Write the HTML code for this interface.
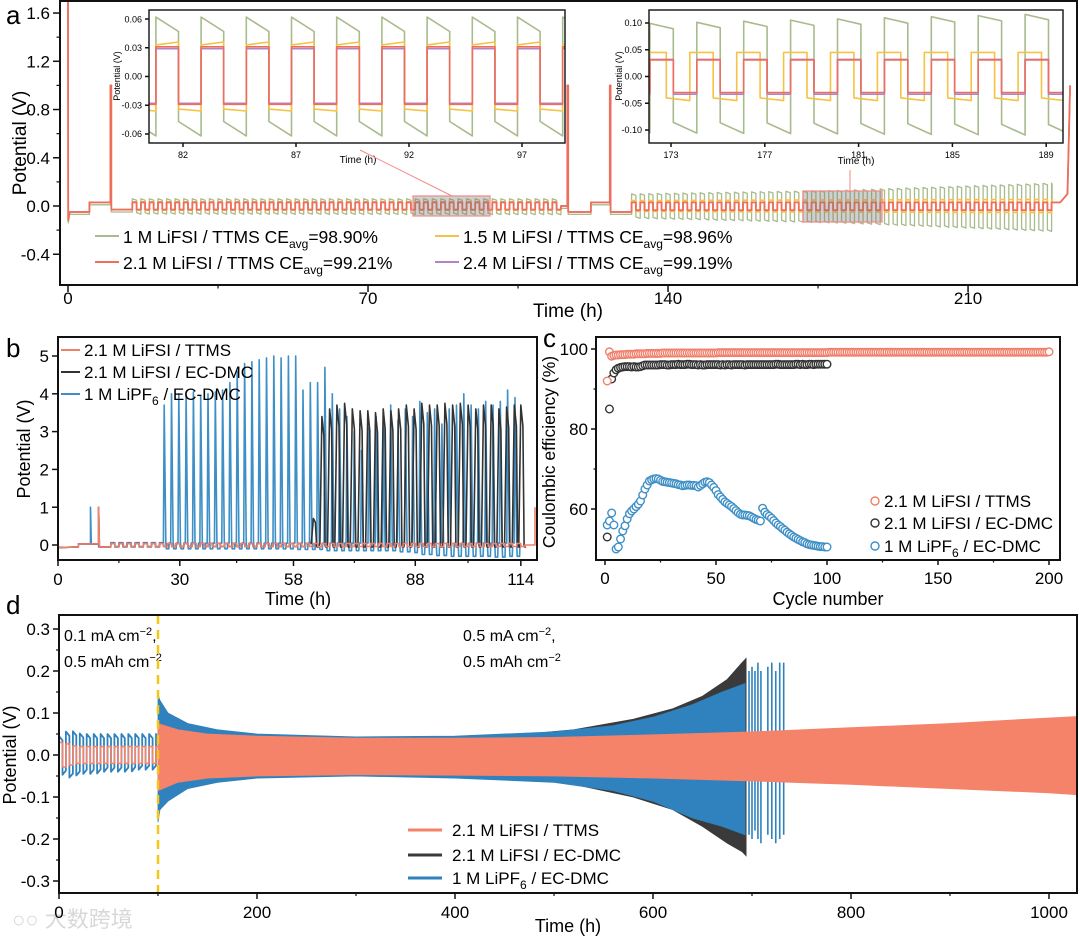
<!DOCTYPE html>
<html><head><meta charset="utf-8">
<style>
html,body{margin:0;padding:0;background:#fff;}
svg{display:block;font-family:"Liberation Sans","Noto Sans CJK SC",sans-serif;}
</style></head>
<body>
<svg id="fig" width="1080" height="937" viewBox="0 0 1080 937" xmlns="http://www.w3.org/2000/svg">
<defs>
<clipPath id="clipA"><rect x="60" y="1" width="1017" height="283"/></clipPath>
<clipPath id="clipI1"><rect x="149" y="10" width="416" height="133"/></clipPath>
<clipPath id="clipI2"><rect x="649" y="10" width="414" height="133"/></clipPath>
<clipPath id="clipB"><rect x="58" y="337" width="479" height="223"/></clipPath>
<clipPath id="clipD"><rect x="59" y="615" width="1018" height="278"/></clipPath>
</defs>
<text x="6" y="24" font-size="26">a</text>
<text x="6" y="357" font-size="26">b</text>
<text x="543" y="347" font-size="26">c</text>
<text x="6" y="614" font-size="26">d</text>
<text x="26" y="143" font-size="19" text-anchor="middle" transform="rotate(-90 26 143)">Potential (V)</text>
<text x="568" y="317" font-size="19" text-anchor="middle">Time (h)</text>
<text x="30" y="449" font-size="18" text-anchor="middle" transform="rotate(-90 30 449)">Potential (V)</text>
<text x="298" y="605" font-size="18" text-anchor="middle">Time (h)</text>
<text x="555" y="452" font-size="17.5" text-anchor="middle" transform="rotate(-90 555 452)">Coulombic efficiency (%)</text>
<text x="828" y="605" font-size="18" text-anchor="middle">Cycle number</text>
<text x="16" y="755" font-size="18" text-anchor="middle" transform="rotate(-90 16 755)">Potential (V)</text>
<text x="568" y="932" font-size="18" text-anchor="middle">Time (h)</text>
<text x="358" y="163" font-size="10" text-anchor="middle">Time (h)</text>
<text x="120" y="76" font-size="9" text-anchor="middle" transform="rotate(-90 120 76)">Potential (V)</text>
<text x="856" y="164" font-size="10" text-anchor="middle">Time (h)</text>
<text x="622" y="76" font-size="9" text-anchor="middle" transform="rotate(-90 622 76)">Potential (V)</text>
<text x="64" y="641" font-size="16">0.1 mA cm<tspan dy="-6" font-size="11">−2</tspan><tspan dy="6">,</tspan></text>
<text x="64" y="667" font-size="16">0.5 mAh cm<tspan dy="-6" font-size="11">−2</tspan></text>
<text x="463" y="641" font-size="16">0.5 mA cm<tspan dy="-6" font-size="11">−2</tspan><tspan dy="6">,</tspan></text>
<text x="463" y="667" font-size="16">0.5 mAh cm<tspan dy="-6" font-size="11">−2</tspan></text>
<text x="12" y="927" font-size="22" fill="#d8d8d8">○○ 大数跨境</text>
</svg>
<script>
// ---------- DATA ----------
const aTickY=[-0.4,0,0.4,0.8,1.2,1.6];
const aTickYLabels=["-0.4","0.0","0.4","0.8","1.2","1.6"];
const aTickX=[0,70,140,210];
const aTickXLabels=["0","70","140","210"];
const aPreT=[0,0.05,0.4,5,5,9.9,9.9,10.1,10.1,15];
const aPreV=[1.8,-0.12,-0.05,-0.05,0.03,0.03,1.0,1.0,-0.03,-0.03];
const aMidT=[115,116.5,116.5,116.7,116.7,122,122,126.4,126.4,126.6,126.6,131.5];
const aMidV=[0.0,0.0,1.0,1.0,-0.05,-0.05,0.03,0.03,1.0,1.0,-0.05,-0.05];
const aEndT=[229.6,231.5,233.2,233.8];
const aEndV=[0.03,0.03,0.1,1.0];
const aAmpT=[15,115,131.5,180,229.6];
const aGreenHi=[0.06,0.06,0.1,0.13,0.19];
const aGreenLo=[-0.055,-0.06,-0.09,-0.13,-0.2];
const aYellowHi=[0.035,0.035,0.045,0.05,0.055];
const aYellowLo=[-0.035,-0.035,-0.045,-0.05,-0.055];
const aPurpleHi=[0.03,0.03,0.03,0.03,0.03];
const aPurpleLo=[-0.03,-0.03,-0.035,-0.035,-0.035];
const aRedHi=[0.03,0.03,0.03,0.03,0.03];
const aRedLo=[-0.03,-0.03,-0.035,-0.035,-0.035];
const i1TickY=[-0.06,-0.03,0,0.03,0.06];
const i1TickYLabels=["-0.06","-0.03","0.00","0.03","0.06"];
const i1TickX=[82,87,92,97];
const i1AmpT=[78,100];
const i1GreenHi=[0.062,0.062], i1GreenLo=[-0.047,-0.047];
const i1YellowHi=[0.033,0.033], i1YellowLo=[-0.034,-0.034];
const i1PurpleHi=[0.029,0.029], i1PurpleLo=[-0.028,-0.028];
const i1RedHi=[0.031,0.031], i1RedLo=[-0.029,-0.029];
const i2TickY=[-0.1,-0.05,0,0.05,0.1];
const i2TickYLabels=["-0.10","-0.05","0.00","0.05","0.10"];
const i2TickX=[173,177,181,185,189];
const i2AmpT=[170,190];
const i2GreenHi=[0.097,0.118], i2GreenLo=[-0.085,-0.09];
const i2YellowHi=[0.045,0.045], i2YellowLo=[-0.04,-0.04];
const i2PurpleHi=[0.032,0.032], i2PurpleLo=[-0.033,-0.033];
const i2RedHi=[0.031,0.031], i2RedLo=[-0.03,-0.03];
const bTickY=[0,1,2,3,4,5];
const bTickX=[0,30,58,88,114];
const bBlueT=[26,27.8,29.6,31.4,33.2,35,36.8,38.6,40.4,42.2,44,45.8,47.6,49.4,51.2,53,54.8,56.6,58.4,60.2,62,63.8,65.6,67.4,69.2,71,72.8,74.6,76.4,78.2,80,81.8,83.6,85.4,87.2,89,90.8,92.6,94.4,96.2,98,99.8,101.6,103.4,105.2,107,108.8,110.6,112.4];
const bBlueP=[3.7,4.0,4.0,3.95,4.05,3.95,4.0,4.05,4.1,4.3,4.6,4.8,4.85,4.9,4.95,5.0,4.95,5.0,5.0,4.1,4.3,4.3,4.7,4.0,3.6,3.4,3.0,2.5,3.1,3.4,3.5,3.7,3.3,3.6,3.4,3.8,3.5,3.6,3.2,3.6,3.7,4.0,3.7,3.6,3.8,3.7,3.8,4.1,3.9];
const bBlueLow=[-0.1,-0.1,-0.1,-0.1,-0.1,-0.1,-0.1,-0.1,-0.1,-0.1,-0.1,-0.1,-0.1,-0.1,-0.1,-0.1,-0.1,-0.1,-0.12,-0.12,-0.12,-0.12,-0.15,-0.15,-0.15,-0.15,-0.15,-0.15,-0.15,-0.15,-0.15,-0.15,-0.18,-0.18,-0.2,-0.25,-0.25,-0.28,-0.28,-0.3,-0.3,-0.3,-0.3,-0.3,-0.3,-0.32,-0.32,-0.3,-0.3];
const bBlackT=[62.5,64.6,66.5,68.3,70.2,72.1,74,75.9,77.8,79.7,81.6,83.5,85.4,87.3,89.2,91.1,93,94.9,96.8,98.7,100.6,102.5,104.4,106.3,108.2,110.1,112,113.6];
const bBlackP=[0.7,3.4,3.6,3.7,3.75,3.6,3.55,3.55,3.5,3.6,3.55,3.6,3.7,3.6,3.75,3.7,3.7,3.75,3.7,3.75,3.7,3.6,3.7,3.7,3.6,3.65,3.7,3.7];
const cTickY=[60,80,100];
const cTickX=[0,50,100,150,200];
const cRed=[92,99.3,98.2,98.4,98.5,98.5,98.6,98.6,98.6,98.7,98.7,98.7,98.7,98.8,98.8,98.8,98.8,98.8,98.9,98.9,
98.9,98.9,98.9,98.9,98.9,99,99,99,99,99,99,99,99,99,99,99,99,99,99,99,
99,99,99,99,99,99,99,99,99,99,99.1,99.1,99.1,99.1,99.1,99.1,99.1,99.1,99.1,99.1,
99.1,99.1,99.1,99.1,99.1,99.1,99.1,99.1,99.1,99.1,99.1,99.1,99.1,99.1,99.1,99.1,99.1,99.1,99.1,99.1,
99.1,99.1,99.1,99.1,99.1,99.1,99.1,99.1,99.1,99.1,99.1,99.1,99.1,99.1,99.1,99.1,99.1,99.1,99.1,99.1,
99.2,99.2,99.2,99.2,99.2,99.2,99.2,99.2,99.2,99.2,99.2,99.2,99.2,99.2,99.2,99.2,99.2,99.2,99.2,99.2,
99.2,99.2,99.2,99.2,99.2,99.2,99.2,99.2,99.2,99.2,99.2,99.2,99.2,99.2,99.2,99.2,99.2,99.2,99.2,99.2,
99.2,99.2,99.2,99.2,99.2,99.2,99.2,99.2,99.2,99.2,99.2,99.2,99.2,99.2,99.2,99.2,99.2,99.2,99.2,99.2,
99.2,99.2,99.2,99.2,99.2,99.2,99.2,99.2,99.2,99.2,99.2,99.2,99.2,99.2,99.2,99.2,99.2,99.2,99.2,99.2,
99.2,99.2,99.2,99.2,99.2,99.2,99.2,99.2,99.2,99.2,99.2,99.2,99.2,99.2,99.2,99.2,99.2,99.2,99.2,99.3];
const cBlack=[53,85,92.5,94,94.8,95.2,95.4,95.5,95.6,95.6,95.6,95.5,95.6,95.5,95.5,95.6,95.8,96,96,96,
96,96,96,96,96.1,96.1,96.1,96,96,96.1,96.1,96.1,96.2,96.1,96.1,96.1,96.2,96.2,96.1,96.1,
96.1,96,96.1,96,96,96.1,96.1,96.1,96.1,96.1,96.1,96,96.1,96,96.1,96.1,96,96.1,96.1,96.1,
96.1,96.1,96,96.1,96.1,96.1,96.1,96.1,96.1,96.1,96.1,96.1,96.1,96.1,96.1,96.1,96.2,96.2,96.1,96.1,
96.1,96.1,96.1,96.1,96.1,96.2,96.2,96.1,96.2,96.1,96.1,96.2,96.2,96.1,96.2,96.2,96.2,96.2,96.2,96.2];
const cBlue=[56,57,59,56,50,50.5,52.5,54.5,55.8,57.5,58.8,59.5,60,60.6,61.2,62,63.5,65,66,67,
67.3,67.5,67.6,67.5,67.2,66.9,66.8,66.7,66.6,66.5,66.4,66.3,66.1,66,65.8,65.9,66,66,65.9,65.9,
65.8,65.5,65.9,66.3,66.7,66.8,66.6,66,65.4,64.6,63.6,63,62.4,61.8,61.4,61,60.6,60.1,59.6,59.1,
58.7,58.5,58.5,58.4,58.3,58,57.7,57.4,57.2,57,60.2,59.2,58.6,58.2,57.7,57.1,56.5,56,55.6,55.1,
54.7,54.2,53.8,53.4,53,52.7,52.4,52.1,51.8,51.6,51.3,51.1,51,50.9,50.8,50.7,50.6,50.6,50.5,50.5];
const dTickY=[-0.3,-0.2,-0.1,0,0.1,0.2,0.3];
const dTickYLabels=["-0.3","-0.2","-0.1","0.0","0.1","0.2","0.3"];
const dTickX=[0,200,400,600,800,1000];
const dEarlyT=[2,9,16,23,30,37,44,51,58,65,72,79,86,93,100];
const dEarlyBlue=[0.045,0.06,0.055,0.05,0.05,0.05,0.05,0.05,0.05,0.05,0.05,0.05,0.05,0.05,0.05];
const dEarlyBlueLo=[-0.045,-0.055,-0.05,-0.045,-0.045,-0.045,-0.04,-0.04,-0.04,-0.04,-0.04,-0.035,-0.035,-0.035,-0.035];
const dEarlyRed=[0.03,0.025,0.02,0.02,0.02,0.02,0.02,0.02,0.02,0.02,0.02,0.02,0.02,0.02,0.02];
const dEarlyRedLo=[-0.03,-0.025,-0.02,-0.02,-0.02,-0.02,-0.02,-0.02,-0.02,-0.02,-0.02,-0.02,-0.02,-0.02,-0.02];
const dRedT=[100,120,150,200,300,400,500,600,700,800,900,1000,1030];
const dRedTop=[0.075,0.06,0.05,0.045,0.04,0.04,0.042,0.048,0.055,0.065,0.075,0.088,0.092];
const dRedBot=[-0.085,-0.065,-0.055,-0.05,-0.047,-0.048,-0.05,-0.055,-0.062,-0.07,-0.08,-0.09,-0.095];
const dBlueT=[100,102,110,130,160,200,300,400,500,560,600,640,670,693];
const dBlueTop=[0.145,0.13,0.1,0.075,0.06,0.05,0.043,0.045,0.055,0.07,0.09,0.12,0.15,0.17];
const dBlueBot=[-0.16,-0.13,-0.11,-0.08,-0.065,-0.055,-0.05,-0.055,-0.065,-0.085,-0.11,-0.15,-0.17,-0.19];
const dBlackT=[450,520,580,620,650,675,690,694];
const dBlackTop=[0.045,0.06,0.085,0.11,0.14,0.18,0.22,0.23];
const dBlackBot=[-0.05,-0.07,-0.1,-0.13,-0.17,-0.21,-0.23,-0.24];
const dTailT=[697,700,703,706,709,716,720,724,728,732];
const dTailTop=[0.2,0.21,0.2,0.22,0.2,0.21,0.22,0.2,0.22,0.22];
const dTailBot=[-0.19,-0.2,-0.18,-0.2,-0.21,-0.19,-0.2,-0.21,-0.2,-0.19];

// ---------- HELPERS ----------
const NS='http://www.w3.org/2000/svg';
const svg=document.getElementById('fig');
function mk(tag,attrs,parent){const e=document.createElementNS(NS,tag);for(const k in attrs)e.setAttribute(k,attrs[k]);(parent||svg).appendChild(e);return e;}
function interp(ts,vs,t){if(t<=ts[0])return vs[0];for(let i=1;i<ts.length;i++){if(t<=ts[i]){const f=(t-ts[i-1])/(ts[i]-ts[i-1]);return vs[i-1]+f*(vs[i]-vs[i-1]);}}return vs[vs.length-1];}
function pathD(pts,X,Y){return pts.map((p,i)=>(i?'L':'M')+X(p[0]).toFixed(1)+' '+Y(p[1]).toFixed(1)).join('');}
function square(t0,t1,half,aT,hi,lo,sagHi,sagLo){const pts=[];let t=t0,h=true;while(t<t1-1e-9){const te=Math.min(t+half,t1);if(h){const a=interp(aT,hi,t);pts.push([t,a],[te,a-(sagHi||0)]);}else{const a=interp(aT,lo,t);pts.push([t,a],[te,a-(sagLo||0)]);}t=te;h=!h;}return pts;}
function zip(ts,vs){return ts.map((t,i)=>[t,vs[i]]);}
function axes(g,x0,y0,x1,y1,X,Y,xt,xl,yt,yl,xmin,ymin,fs,tl,lo){
  const lab=(lo===undefined)?(tl+fs+2):lo;
  const r=mk('rect',{x:x0,y:y0,width:x1-x0,height:y1-y0,fill:'none',stroke:'#111','stroke-width':fs>12?2:1.4},g);
  
  
  xt.forEach((v,i)=>{mk('line',{x1:X(v),x2:X(v),y1:y1,y2:y1+tl,stroke:'#111','stroke-width':1.5},g);
    const t=mk('text',{x:X(v),y:y1+lab,'font-size':fs,'text-anchor':'middle'},g);t.textContent=xl?xl[i]:String(v);
    
    });
  (xmin||[]).forEach(v=>mk('line',{x1:X(v),x2:X(v),y1:y1,y2:y1+tl/2,stroke:'#111','stroke-width':1.2},g));
  yt.forEach((v,i)=>{mk('line',{x1:x0-tl,x2:x0,y1:Y(v),y2:Y(v),stroke:'#111','stroke-width':1.5},g);
    const t=mk('text',{x:x0-tl-3,y:Y(v)+fs*0.36,'font-size':fs,'text-anchor':'end'},g);t.textContent=yl?yl[i]:String(v);
    
    });
  (ymin||[]).forEach(v=>mk('line',{x1:x0-tl/2,x2:x0,y1:Y(v),y2:Y(v),stroke:'#111','stroke-width':1.2},g));
}
function line(g,pts,X,Y,color,w,name,clip){const p=mk('path',{d:pathD(pts,X,Y),fill:'none',stroke:color,'stroke-width':w,'stroke-linejoin':'round','clip-path':clip?'url(#'+clip+')':''},g);
  
  return p;}

const GREEN='#a9bb8c',YEL='#f6c244',PUR='#b283c8',RED='#ee6e5c';
// ---------- PANEL A ----------
const gA=mk('g',{});


const XA=t=>68+t*4.286, YA=v=>206-v*120.6;
function aSeries(hi,lo,sh,sl,off){return zip(aPreT,aPreV.map(v=>v+off)).concat(square(15,115,1,aAmpT,hi,lo,sh,sl),zip(aMidT,aMidV.map(v=>v+off)),square(131.5,229.6,1,aAmpT,hi,lo,sh,sl),zip(aEndT,aEndV));}
line(gA,aSeries(aGreenHi,aGreenLo,0.012,0.012,-0.02),XA,YA,GREEN,1.3,'series-1m-lifsi-ttms','clipA');
line(gA,aSeries(aYellowHi,aYellowLo,0,0,0),XA,YA,YEL,1.6,'series-1-5m-lifsi-ttms','clipA');
line(gA,aSeries(aPurpleHi,aPurpleLo,0,0,0),XA,YA,PUR,1.4,'series-2-4m-lifsi-ttms','clipA');
line(gA,aSeries(aRedHi,aRedLo,0,0,0),XA,YA,RED,1.8,'series-2-1m-lifsi-ttms','clipA');
axes(gA,60,1,1077,285,XA,YA,aTickX,aTickXLabels,aTickY,aTickYLabels,[35,105,175],[-0.2,0.2,0.6,1.0,1.4],17,7,19);
[[413,196,77,20,[452,196,360,150]],[803,191,79,31,[850,191,850,170]]].forEach((b,i)=>{
  const r=mk('rect',{x:b[0],y:b[1],width:b[2],height:b[3],fill:'rgba(120,120,120,0.35)',stroke:'#f08a86','stroke-width':1.2},gA);
  
  
  const l=mk('line',{x1:b[4][0],y1:b[4][1],x2:b[4][2],y2:b[4][3],stroke:'#f08a86','stroke-width':1},gA);
  
  
});
function inset(clip,x0,x1,X,Y,tStart,phases,arrs,xt,yt,yl,name){
  const g=mk('g',{},gA);
  
  
  mk('rect',{x:x0,y:10,width:x1-x0,height:133,fill:'#fff'},g);
  const cols=[GREEN,YEL,PUR,RED],nm=['green','yellow','purple','red'];
  arrs.forEach((a,i)=>line(g,square(phases[i],tStart+22,1,a[0],a[1],a[2],a[3],a[4]),X,Y,cols[i],1.6,name+'-'+nm[i],clip));
  axes(g,x0,10,x1,143,X,Y,xt,null,yt,yl,[],[],9,4);
}
const XI1=t=>183+(t-82)*22.6, YI1=v=>76.5-v*958;
inset('clipI1',149,565,XI1,YI1,78,[78.8,78.8,78.8,78.8],
 [[i1AmpT,i1GreenHi,i1GreenLo,0.015,0.015],[i1AmpT,i1YellowHi,i1YellowLo,-0.003,0.002],[i1AmpT,i1PurpleHi,i1PurpleLo,0,0],[i1AmpT,i1RedHi,i1RedLo,0,0]],
 i1TickX,i1TickY,i1TickYLabels,'inset-1');
const XI2=t=>671+(t-173)*23.45, YI2=v=>76.5-v*535;
inset('clipI2',649,1063,XI2,YI2,170,[170.1,169.8,170.1,170.1],
 [[i2AmpT,i2GreenHi,i2GreenLo,0.01,0.02],[i2AmpT,i2YellowHi,i2YellowLo,0,0.005],[i2AmpT,i2PurpleHi,i2PurpleLo,0,0],[i2AmpT,i2RedHi,i2RedLo,0,0]],
 i2TickX,i2TickY,i2TickYLabels,'inset-2');
const legA=[[95,236,GREEN,'1 M LiFSI / TTMS CE','=98.90%'],[435,236,YEL,'1.5 M LiFSI / TTMS CE','=98.96%'],[95,262,RED,'2.1 M LiFSI / TTMS CE','=99.21%'],[435,262,PUR,'2.4 M LiFSI / TTMS CE','=99.19%']];
legA.forEach(e=>{
  const l=mk('line',{x1:e[0],x2:e[0]+24,y1:e[1],y2:e[1],stroke:e[2],'stroke-width':2},gA);
  
  
  const t=mk('text',{x:e[0]+28,y:e[1]+7,'font-size':17.5},gA);
  
  
  t.innerHTML=e[3]+'<tspan dy="5" font-size="12">avg</tspan><tspan dy="-5">'+e[4]+'</tspan>';
});

// ---------- PANEL B ----------
const gB=mk('g',{});


const XB=t=>58+t*4.06, YB=v=>545-v*37.8;
const bRedAmpT=[13,115],bRedHi=[0.04,0.04],bRedLo=[-0.04,-0.04];
const bBlueAmpT=[13,26],bBlueHi=[0.06,0.06],bBlueLo=[-0.05,-0.05];
let bp=[[0,-0.07],[5,-0.05],[5,0.03],[8,0.03],[8,1.0],[8.2,0.02],[10,0.02],[10,-0.05],[13,-0.05]].concat(square(13,26,1,bBlueAmpT,bBlueHi,bBlueLo,0,0));
bBlueT.forEach((t,i)=>{bp.push([t-0.05,0.05],[t+0.15,bBlueP[i]],[t+0.55,0.1],[t+0.7,bBlueLow[i]],[t+1.3,bBlueLow[i]],[t+1.4,0.05]);});
let kp=[[0,-0.07],[5,-0.05],[5,0.03],[10,0.03],[10,1.0],[10.2,-0.05],[13,-0.05]].concat(square(13,62,1,[13,62],[0.04,0.04],[-0.04,-0.04],0,0));
bBlackT.forEach((t,i)=>{kp.push([t-0.1,0.05],[t+0.4,bBlackP[i]],[t+0.9,bBlackP[i]*0.85],[t+1.2,0.0],[t+1.3,-0.05],[t+1.7,-0.05]);});
let rp=[[0,-0.07],[5,-0.05],[5,0.03],[10,0.03],[10,1.0],[10.2,-0.05],[13,-0.05]].concat(square(13,115,1,bRedAmpT,bRedHi,bRedLo,0,0),[[115,0.0],[117.5,0.0],[117.5,1.0]]);
line(gB,bp,XB,YB,'#3d8fc6',1.6,'series-1m-lipf6-ec-dmc','clipB');
line(gB,kp,XB,YB,'#333',1.6,'series-2-1m-lifsi-ec-dmc','clipB');
line(gB,rp,XB,YB,'#f07f6b',1.6,'series-2-1m-lifsi-ttms','clipB');
axes(gB,58,337,537,560,XB,YB,bTickX,null,bTickY,null,[15,44,73,101],[],17,6);
[['2.1 M LiFSI / TTMS','#f07f6b',350],['2.1 M LiFSI / EC-DMC','#333',372],['1 M LiPF<tspan dy="5" font-size="12">6</tspan><tspan dy="-5"> / EC-DMC</tspan>','#3d8fc6',394]].forEach(e=>{
  const l=mk('line',{x1:61,x2:80,y1:e[2],y2:e[2],stroke:e[1],'stroke-width':2},gB);
  
  
  const t=mk('text',{x:84,y:e[2]+6,'font-size':17},gB);
  
  
  t.innerHTML=e[0];
});

// ---------- PANEL C ----------
const gC=mk('g',{});


const XC=c=>605+c*2.22, YC=v=>509-(v-60)*4.0;
function scatter(arr,color,name){arr.forEach((v,i)=>{const c=mk('circle',{cx:XC(i+1),cy:YC(v),r:3.8,fill:'#fff',stroke:color,'stroke-width':1.4},gC);
  
  });}
scatter(cBlue,'#3d8fc6','point-1m-lipf6');
scatter(cBlack,'#333','point-2-1m-ec-dmc');
scatter(cRed,'#f07f6b','point-2-1m-ttms');
axes(gC,596,337,1060,560,XC,YC,cTickX,null,cTickY,null,[25,75,125,175],[70,90],17,5);
[['2.1 M LiFSI / TTMS','#f07f6b',501],['2.1 M LiFSI / EC-DMC','#333',523],['1 M LiPF<tspan dy="5" font-size="12">6</tspan><tspan dy="-5"> / EC-DMC</tspan>','#3d8fc6',546]].forEach(e=>{
  const c=mk('circle',{cx:875,cy:e[2],r:4,fill:'#fff',stroke:e[1],'stroke-width':1.4},gC);
  
  
  const t=mk('text',{x:884,y:e[2]+6,'font-size':17},gC);
  
  
  t.innerHTML=e[0];
});

// ---------- PANEL D ----------
const gD=mk('g',{});


const XD=t=>59+t*0.99, YD=v=>755-v*420;
function band(ts,top,bot,color,name){const pts=zip(ts,top).concat(zip(ts,bot).reverse());const p=mk('path',{d:pathD(pts,XD,YD)+'Z',fill:color,stroke:color,'stroke-width':0.8,'clip-path':'url(#clipD)'},gD);
  
  }
line(gD,square(0,100,3.5,dEarlyT,dEarlyBlue,dEarlyBlueLo,0.01,-0.01),XD,YD,'#2f82bd',1.8,'series-1m-lipf6-early','clipD');
line(gD,square(0,100,3.5,dEarlyT,dEarlyRed,dEarlyRedLo,0,0),XD,YD,'#f4836a',1.6,'series-2-1m-ttms-early','clipD');
band(dBlackT,dBlackTop,dBlackBot,'#3a3a3a','series-2-1m-ec-dmc-band');
band(dBlueT,dBlueTop,dBlueBot,'#2f82bd','series-1m-lipf6-band');
dTailT.forEach((t,i)=>{const l=mk('line',{x1:XD(t),x2:XD(t),y1:YD(dTailTop[i]),y2:YD(dTailBot[i]),stroke:'#2f82bd','stroke-width':1.6},gD);
  
  });
band(dRedT,dRedTop,dRedBot,'#f4836a','series-2-1m-ttms-band');
const dl=mk('line',{x1:XD(100),x2:XD(100),y1:615,y2:893,stroke:'#f5c518','stroke-width':2.5,'stroke-dasharray':'9,6'},gD);


axes(gD,59,615,1077,893,XD,YD,dTickX,null,dTickY,dTickYLabels,[100,300,500,700,900],[-0.25,-0.15,-0.05,0.05,0.15,0.25],17,6);
[['2.1 M LiFSI / TTMS','#f4836a',830],['2.1 M LiFSI / EC-DMC','#3a3a3a',855],['1 M LiPF<tspan dy="5" font-size="12">6</tspan><tspan dy="-5"> / EC-DMC</tspan>','#2f82bd',878]].forEach(e=>{
  const l=mk('line',{x1:408,x2:442,y1:e[2],y2:e[2],stroke:e[1],'stroke-width':3},gD);
  
  
  const t=mk('text',{x:452,y:e[2]+6,'font-size':17},gD);
  
  
  t.innerHTML=e[0];
});
</script>
</body></html>
